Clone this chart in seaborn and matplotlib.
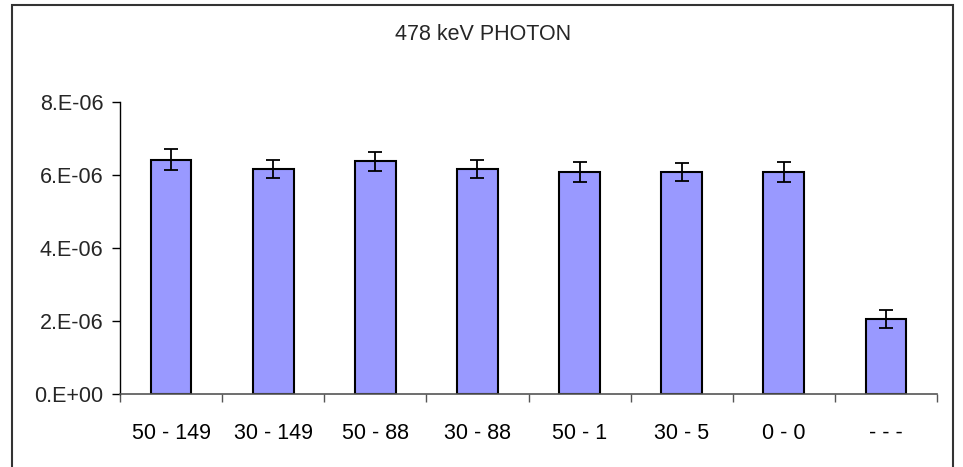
import numpy as np
import pandas as pd
import matplotlib
matplotlib.use("Agg")
import matplotlib.pyplot as plt
import seaborn as sns
from matplotlib.ticker import FuncFormatter
from matplotlib.patches import Rectangle

# data
labels = ['50 - 149', '30 - 149', '50 - 88', '30 - 88', '50 - 1', '30 - 5', '0 - 0', '- - -']
values = [6.42e-6, 6.17e-6, 6.37e-6, 6.17e-6, 6.08e-6, 6.08e-6, 6.08e-6, 2.05e-6]
errors = [0.29e-6, 0.25e-6, 0.25e-6, 0.25e-6, 0.28e-6, 0.25e-6, 0.28e-6, 0.24e-6]
title = '478 keV PHOTON'

sns.set_theme(style='white')
plt.rcParams['font.family'] = ['Liberation Sans', 'DejaVu Sans']

df = pd.DataFrame({'label': labels, 'value': values})

fig = plt.figure(figsize=(9.63, 4.67), dpi=100)
ax = fig.add_axes([120 / 963, 1 - 394 / 467, (937 - 120) / 963, (394 - 102) / 467])

sns.barplot(data=df, x='label', y='value', color='#9999FF', width=0.4,
            edgecolor='black', linewidth=1.5, saturation=1, errorbar=None, ax=ax)
ax.errorbar(np.arange(len(values)), values, yerr=errors, fmt='none',
            ecolor='black', elinewidth=1.3, capsize=4.7, capthick=1.3)

ax.set_xlim(-0.5, len(labels) - 0.5)
ax.set_ylim(0, 8e-6)
ax.set_yticks(np.arange(0, 8.1e-6, 2e-6))
ax.yaxis.set_major_formatter(FuncFormatter(lambda v, p: format(v, '#.0E')))
ax.set_xlabel('')
ax.set_ylabel('')

# ticks between categories on x, outward ticks on y
ax.set_xticks(np.arange(-0.5, len(labels), 1), minor=True)
ax.tick_params(axis='x', which='major', length=0, pad=21, labelsize=15.5, colors='black')
ax.tick_params(axis='x', which='minor', bottom=True, length=6, width=1, color='#555555')
ax.tick_params(axis='y', left=True, length=6, width=1, color='black', labelsize=15.5, pad=6)

for s in ['top', 'right']:
    ax.spines[s].set_visible(False)
ax.spines['left'].set_color('black')
ax.spines['left'].set_linewidth(1)
ax.spines['bottom'].set_color('#555555')
ax.spines['bottom'].set_linewidth(1.2)

fig.text(483 / 963, 1 - 35 / 467, title, ha='center', va='center', fontsize=15.5)

# outer chart frame (cut off at the bottom)
fig.patches.append(Rectangle((12 / 963, -0.05), (953 - 12) / 963, 1.05 - 5 / 467,
                             transform=fig.transFigure, fill=False,
                             edgecolor='#333333', linewidth=1.5))

fig.savefig('out.png', dpi=100)
